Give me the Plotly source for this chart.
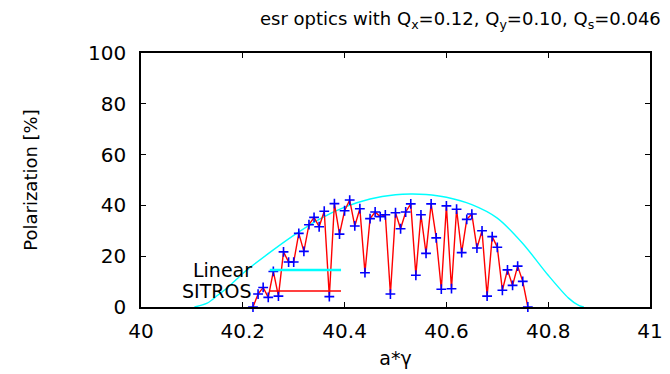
import plotly.graph_objects as go

# SITROS (tracking) results
sitros_a = [40.22, 40.23, 40.24, 40.25, 40.26, 40.27, 40.28, 40.29, 40.30, 40.31,
            40.32, 40.33, 40.34, 40.35, 40.36, 40.37, 40.38, 40.39, 40.40, 40.41,
            40.42, 40.43, 40.44, 40.45, 40.46, 40.47, 40.48, 40.49, 40.50, 40.51,
            40.52, 40.53, 40.54, 40.55, 40.56, 40.57, 40.58, 40.59, 40.60, 40.61,
            40.62, 40.63, 40.64, 40.65, 40.66, 40.67, 40.68, 40.69, 40.70, 40.71,
            40.72, 40.73, 40.74, 40.75, 40.76]
sitros_p = [0.0, 5.1, 7.7, 3.8, 14.0, 4.3, 21.7, 17.7, 17.7, 29.0,
            21.9, 32.4, 35.3, 31.6, 37.7, 4.1, 40.7, 28.7, 37.9, 42.1,
            31.9, 38.7, 13.5, 34.8, 37.4, 35.6, 36.3, 5.1, 37.1, 30.8,
            37.4, 40.6, 12.5, 36.3, 21.1, 40.6, 27.2, 7.0, 39.8, 7.2,
            38.5, 21.4, 34.5, 36.6, 23.2, 30.0, 4.3, 27.7, 23.5, 6.6,
            14.6, 8.5, 16.1, 10.1, 0.0]

# Linear theory curve
linear_a = [40.105, 40.13, 40.15, 40.175, 40.20, 40.25, 40.30, 40.35, 40.40, 40.45,
            40.50, 40.53, 40.56, 40.60, 40.65, 40.70, 40.75, 40.80, 40.84, 40.86, 40.87]
linear_p = [0.0, 1.5, 4.5, 8.5, 13.2, 21.0, 28.2, 34.5, 39.3, 42.5,
            44.2, 44.5, 44.3, 43.2, 40.3, 35.0, 25.0, 12.5, 3.5, 0.6, 0.0]

x_ticks = [40, 40.2, 40.4, 40.6, 40.8, 41]
x_tick_text = ["40", "40.2", "40.4", "40.6", "40.8", "41"]
y_ticks = [0, 20, 40, 60, 80, 100]

FONT = "DejaVu Sans"

fig = go.Figure()
fig.add_trace(go.Scatter(
    x=linear_a, y=linear_p, mode="lines", name="Linear",
    line=dict(color="#00ffff", width=1.4, shape="spline", smoothing=0.8),
    showlegend=False, cliponaxis=True))
fig.add_trace(go.Scatter(
    x=sitros_a, y=sitros_p, mode="lines+markers", name="SITROS",
    line=dict(color="#ff0000", width=1.4),
    marker=dict(symbol="cross-thin", size=7, color="#0000ff",
                line=dict(color="#0000ff", width=1.6)),
    showlegend=False, cliponaxis=False))

# gnuplot-style key (text left of sample)
key_x0, key_x1 = 40.253, 40.393
fig.add_shape(type="line", xref="x", yref="y", x0=key_x0, x1=key_x1, y0=14.6, y1=14.6,
              line=dict(color="#00ffff", width=2.5))
fig.add_shape(type="line", xref="x", yref="y", x0=key_x0, x1=key_x1, y0=6.3, y1=6.3,
              line=dict(color="#ff0000", width=1.3))
fig.add_annotation(x=40.222, y=14.6, xref="x", yref="y", text="Linear", showarrow=False,
                   xanchor="right", yanchor="middle",
                   font=dict(family=FONT, size=19, color="black"))
fig.add_annotation(x=40.222, y=6.3, xref="x", yref="y", text="SITROS", showarrow=False,
                   xanchor="right", yanchor="middle",
                   font=dict(family=FONT, size=19, color="black"))

# title
fig.add_annotation(x=0.627, y=1.13, xref="paper", yref="paper",
                   text="esr optics with Q<sub>x</sub>=0.12, Q<sub>y</sub>=0.10, Q<sub>s</sub>=0.046",
                   showarrow=False, xanchor="center", yanchor="middle",
                   font=dict(family=FONT, size=18, color="black"))

axis_common = dict(showline=True, linecolor="black", linewidth=1.5, mirror="ticks",
                   ticks="inside", ticklen=5, tickwidth=1, tickcolor="black",
                   showgrid=False, zeroline=False, automargin=False,
                   tickfont=dict(family=FONT, size=20, color="black"))

fig.update_xaxes(range=[40, 41], tickvals=x_ticks, ticktext=x_tick_text,
                 ticklabelstandoff=5,
                 title=dict(text="a*γ", font=dict(family=FONT, size=19, color="black"),
                            standoff=10),
                 **axis_common)
fig.update_yaxes(range=[0, 100], tickvals=y_ticks,
                 ticklabelstandoff=9,
                 title=dict(text="Polarization [%]", font=dict(family=FONT, size=18, color="black"),
                            standoff=46),
                 **axis_common)

fig.update_layout(width=670, height=374, plot_bgcolor="white", paper_bgcolor="white",
                  margin=dict(l=141, r=20, t=53, b=67), showlegend=False)

fig.write_html("out.html")
